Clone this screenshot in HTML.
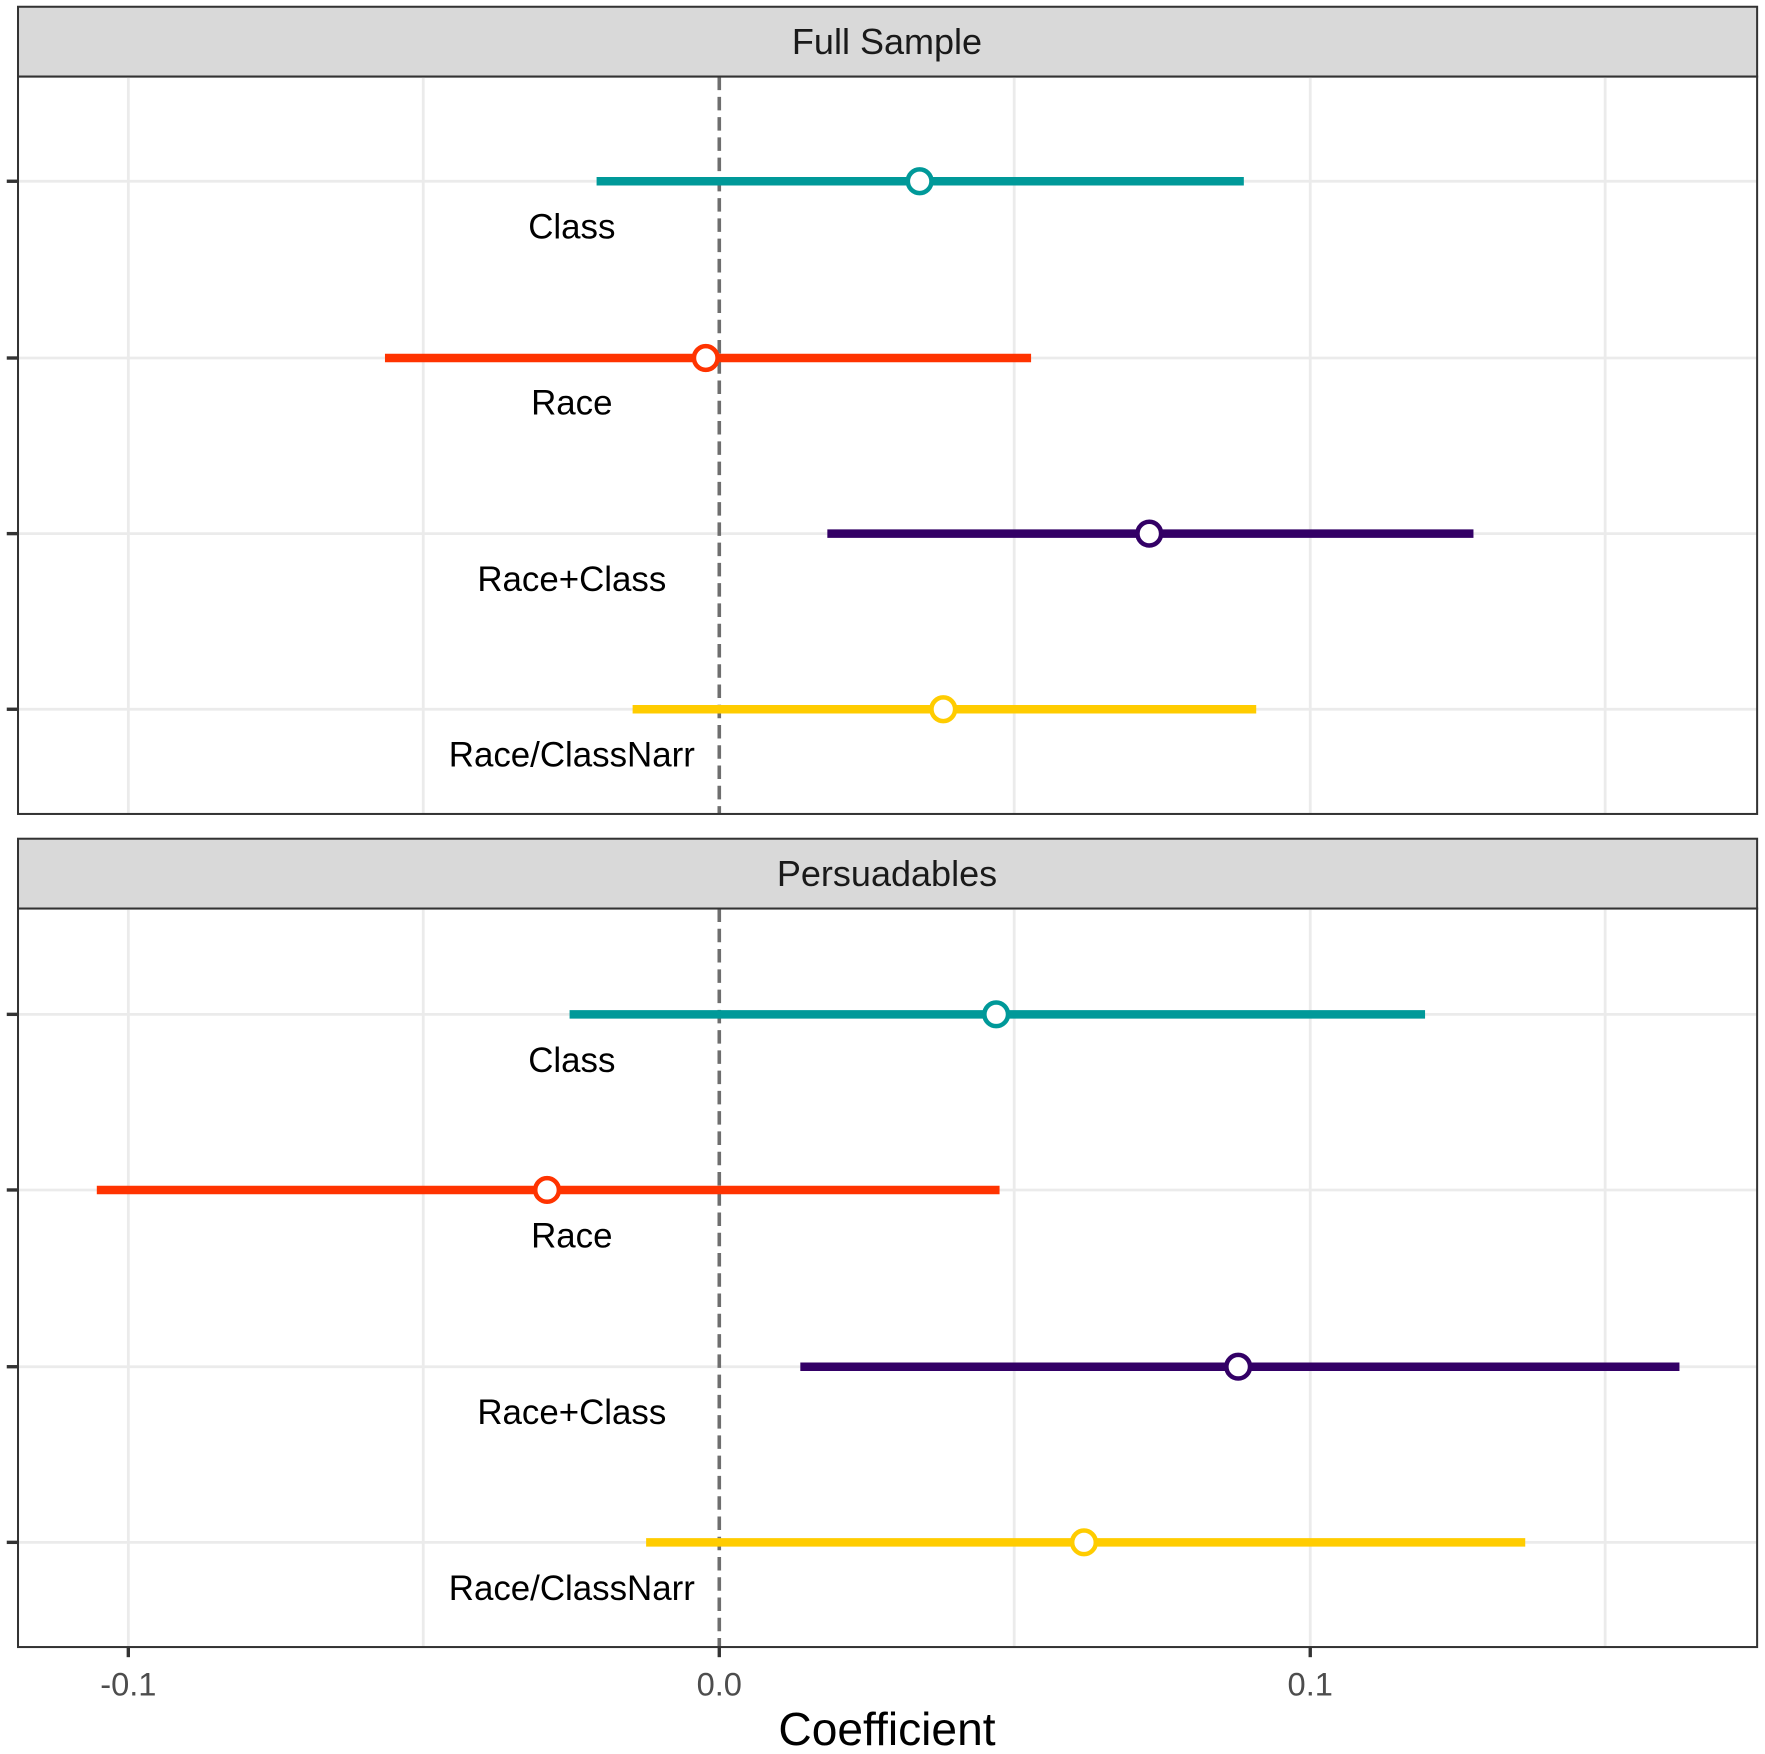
<!DOCTYPE html>
<html><head><meta charset="utf-8"><style>html,body{margin:0;padding:0;background:#fff}svg{display:block}</style></head>
<body>
<svg width="1765" height="1754" viewBox="0 0 1568 1558" preserveAspectRatio="none" xmlns="http://www.w3.org/2000/svg" font-family="Liberation Sans, sans-serif">
<rect width="1568" height="1558" fill="#fff"/>
<!-- Panel 1 -->
<g>
<rect x="16" y="6" width="1545" height="62" fill="#d9d9d9" stroke="#333" stroke-width="1.8"/>
<text x="788" y="48" font-size="32" text-anchor="middle" fill="#1a1a1a">Full Sample</text>
<g stroke="#ebebeb" stroke-width="2.5">
<line x1="114" y1="68" x2="114" y2="723"/><line x1="376" y1="68" x2="376" y2="723"/><line x1="901" y1="68" x2="901" y2="723"/><line x1="1164" y1="68" x2="1164" y2="723"/><line x1="1426" y1="68" x2="1426" y2="723"/>
<line x1="16" y1="161" x2="1561" y2="161"/><line x1="16" y1="318" x2="1561" y2="318"/><line x1="16" y1="474" x2="1561" y2="474"/><line x1="16" y1="630" x2="1561" y2="630"/>
</g>
<line x1="639" y1="68" x2="639" y2="723" stroke="#6e6e6e" stroke-width="3.2" stroke-dasharray="12,6"/>
<g stroke-width="7.5">
<line x1="530" y1="161" x2="1105" y2="161" stroke="#009999"/>
<line x1="342" y1="318" x2="916" y2="318" stroke="#ff3300"/>
<line x1="735" y1="474" x2="1309" y2="474" stroke="#330066"/>
<line x1="562" y1="630" x2="1116" y2="630" stroke="#ffcc00"/>
</g>
<g fill="#fff" stroke-width="4">
<circle cx="817" cy="161" r="10.5" stroke="#009999"/>
<circle cx="627" cy="318" r="10.5" stroke="#ff3300"/>
<circle cx="1021" cy="474" r="10.5" stroke="#330066"/>
<circle cx="838" cy="630" r="10.5" stroke="#ffcc00"/>
</g>
<g font-size="31" text-anchor="middle" fill="#000">
<text x="508" y="212">Class</text><text x="508" y="368">Race</text><text x="508" y="525">Race+Class</text><text x="508" y="681">Race/ClassNarr</text>
</g>
<rect x="16" y="68" width="1545" height="655" fill="none" stroke="#333" stroke-width="1.8"/>
<g stroke="#333" stroke-width="3"><line x1="6" y1="161" x2="16" y2="161"/><line x1="6" y1="318" x2="16" y2="318"/><line x1="6" y1="474" x2="16" y2="474"/><line x1="6" y1="630" x2="16" y2="630"/></g>
</g>
<!-- Panel 2 -->
<g>
<rect x="16" y="745" width="1545" height="62" fill="#d9d9d9" stroke="#333" stroke-width="1.8"/>
<text x="788" y="787" font-size="32" text-anchor="middle" fill="#1a1a1a">Persuadables</text>
<g stroke="#ebebeb" stroke-width="2.5">
<line x1="114" y1="807" x2="114" y2="1463"/><line x1="376" y1="807" x2="376" y2="1463"/><line x1="901" y1="807" x2="901" y2="1463"/><line x1="1164" y1="807" x2="1164" y2="1463"/><line x1="1426" y1="807" x2="1426" y2="1463"/>
<line x1="16" y1="901" x2="1561" y2="901"/><line x1="16" y1="1057" x2="1561" y2="1057"/><line x1="16" y1="1214" x2="1561" y2="1214"/><line x1="16" y1="1370" x2="1561" y2="1370"/>
</g>
<line x1="639" y1="807" x2="639" y2="1463" stroke="#6e6e6e" stroke-width="3.2" stroke-dasharray="12,6"/>
<g stroke-width="7.5">
<line x1="506" y1="901" x2="1266" y2="901" stroke="#009999"/>
<line x1="86" y1="1057" x2="888" y2="1057" stroke="#ff3300"/>
<line x1="711" y1="1214" x2="1492" y2="1214" stroke="#330066"/>
<line x1="574" y1="1370" x2="1355" y2="1370" stroke="#ffcc00"/>
</g>
<g fill="#fff" stroke-width="4">
<circle cx="885" cy="901" r="10.5" stroke="#009999"/>
<circle cx="486" cy="1057" r="10.5" stroke="#ff3300"/>
<circle cx="1100" cy="1214" r="10.5" stroke="#330066"/>
<circle cx="963" cy="1370" r="10.5" stroke="#ffcc00"/>
</g>
<g font-size="31" text-anchor="middle" fill="#000">
<text x="508" y="952">Class</text><text x="508" y="1108">Race</text><text x="508" y="1265">Race+Class</text><text x="508" y="1421">Race/ClassNarr</text>
</g>
<rect x="16" y="807" width="1545" height="656" fill="none" stroke="#333" stroke-width="1.8"/>
<g stroke="#333" stroke-width="3"><line x1="6" y1="901" x2="16" y2="901"/><line x1="6" y1="1057" x2="16" y2="1057"/><line x1="6" y1="1214" x2="16" y2="1214"/><line x1="6" y1="1370" x2="16" y2="1370"/></g>
<g stroke="#333" stroke-width="3"><line x1="114" y1="1463" x2="114" y2="1472"/><line x1="639" y1="1463" x2="639" y2="1472"/><line x1="1164" y1="1463" x2="1164" y2="1472"/></g>
</g>
<g font-size="29" text-anchor="middle" fill="#4d4d4d">
<text x="114" y="1506">-0.1</text><text x="639" y="1506">0.0</text><text x="1164" y="1506">0.1</text>
</g>
<text x="788" y="1550" font-size="41" text-anchor="middle" fill="#000">Coefficient</text>
</svg>
</body></html>
